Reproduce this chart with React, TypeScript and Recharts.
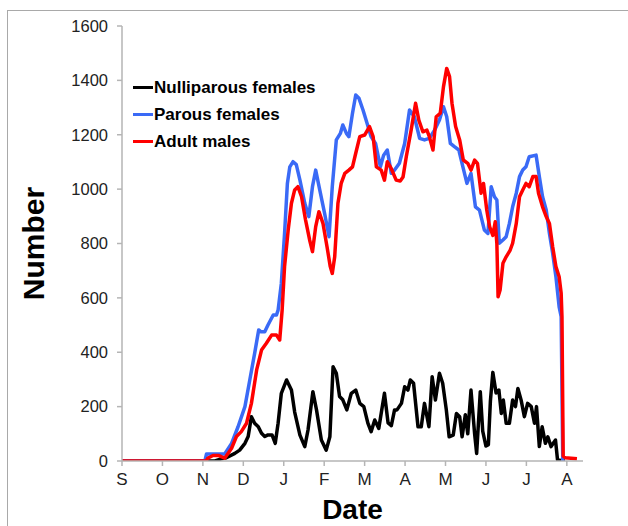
import { Legend, Line, LineChart, XAxis, YAxis } from "recharts";

// months from September (0) to August (11)
const monthLabels = ["S", "O", "N", "D", "J", "F", "M", "A", "M", "J", "J", "A"];
const monthTicks = monthLabels.map((_, i) => i);
const numberTicks = [0, 200, 400, 600, 800, 1000, 1200, 1400, 1600];

type Pt = [number, number]; // [month, number]

const nulliparous: Pt[] = [
  [0, 0], [2.3, 0], [2.45, 8], [2.58, 12], [2.79, 28], [2.91, 40], [3.04, 65], [3.12, 90],
  [3.2, 163], [3.28, 139], [3.37, 126], [3.45, 102], [3.53, 90], [3.61, 96], [3.71, 96],
  [3.79, 65], [3.86, 139], [3.94, 249], [4.07, 298], [4.19, 261], [4.27, 180], [4.4, 95],
  [4.52, 53], [4.6, 114], [4.72, 255], [4.81, 188], [4.93, 77], [5.05, 40], [5.14, 89],
  [5.22, 347], [5.3, 323], [5.38, 237], [5.46, 225], [5.56, 188], [5.67, 249], [5.78, 261],
  [5.88, 212], [5.98, 200], [6.08, 139], [6.16, 108], [6.25, 151], [6.35, 120], [6.49, 249],
  [6.58, 140], [6.66, 130], [6.74, 188], [6.8, 188], [6.91, 212], [6.99, 273], [7.07, 261],
  [7.13, 298], [7.21, 286], [7.32, 126], [7.4, 126], [7.48, 212], [7.59, 126], [7.67, 310],
  [7.75, 224], [7.85, 323], [7.93, 286], [8.02, 188], [8.09, 89], [8.19, 95], [8.27, 175],
  [8.35, 163], [8.41, 89], [8.49, 170], [8.55, 100], [8.63, 261], [8.72, 100], [8.77, 28],
  [8.86, 255], [8.92, 110], [9.0, 55], [9.06, 60], [9.11, 220], [9.17, 326], [9.25, 250],
  [9.32, 261], [9.38, 175], [9.43, 224], [9.5, 139], [9.58, 139], [9.66, 224], [9.73, 200],
  [9.79, 267], [9.87, 224], [9.95, 163], [10.03, 212], [10.12, 200], [10.2, 139], [10.25, 200],
  [10.32, 53], [10.39, 126], [10.47, 65], [10.53, 89], [10.61, 53], [10.72, 77], [10.77, 4],
  [10.95, 0],
];

const parous: Pt[] = [
  [0, 0], [2.05, 0], [2.09, 26], [2.54, 26], [2.71, 65], [2.87, 126], [3.04, 200], [3.16, 298],
  [3.28, 396], [3.38, 482], [3.44, 475], [3.53, 475], [3.61, 500], [3.74, 537], [3.82, 537],
  [3.86, 555], [3.94, 653], [4.02, 837], [4.09, 1021], [4.15, 1082], [4.23, 1101], [4.31, 1090],
  [4.4, 1033], [4.52, 948], [4.62, 899], [4.71, 1009], [4.79, 1070], [4.89, 997], [5.01, 911],
  [5.12, 825], [5.2, 1009], [5.3, 1181], [5.4, 1205], [5.46, 1236], [5.55, 1205], [5.61, 1193],
  [5.7, 1279], [5.78, 1346], [5.86, 1334], [5.96, 1291], [6.06, 1242], [6.16, 1193], [6.27, 1168],
  [6.39, 1082], [6.47, 1125], [6.56, 1144], [6.66, 1058], [6.74, 1070], [6.86, 1095], [6.99, 1168],
  [7.11, 1291], [7.23, 1266], [7.36, 1187], [7.48, 1181], [7.6, 1187], [7.73, 1217], [7.85, 1254],
  [7.95, 1303], [8.03, 1266], [8.12, 1168], [8.22, 1156], [8.33, 1144], [8.43, 1082], [8.53, 1021],
  [8.63, 1058], [8.74, 935], [8.84, 923], [8.96, 850], [9.05, 837], [9.13, 1009], [9.21, 972],
  [9.27, 960], [9.33, 801], [9.42, 813], [9.5, 825], [9.58, 874], [9.66, 935], [9.75, 985],
  [9.83, 1046], [9.91, 1070], [9.99, 1082], [10.07, 1119], [10.24, 1125], [10.32, 1046],
  [10.4, 972], [10.49, 923], [10.57, 837], [10.65, 764], [10.73, 678], [10.81, 567], [10.86, 531],
  [10.9, 0],
];

const adultMales: Pt[] = [
  [0, 0], [2.08, 0], [2.12, 10], [2.25, 20], [2.4, 20], [2.54, 10], [2.71, 47], [2.83, 90],
  [2.95, 108], [3.08, 139], [3.2, 212], [3.33, 335], [3.45, 408], [3.57, 433], [3.7, 463],
  [3.82, 463], [3.9, 445], [3.96, 555], [4.02, 715], [4.11, 850], [4.19, 948], [4.27, 997],
  [4.35, 1009], [4.44, 972], [4.54, 886], [4.64, 813], [4.71, 770], [4.79, 862], [4.87, 917],
  [4.97, 874], [5.07, 788], [5.15, 715], [5.2, 690], [5.26, 751], [5.34, 948], [5.42, 1021],
  [5.51, 1058], [5.61, 1070], [5.7, 1082], [5.78, 1132], [5.88, 1193], [6.0, 1199], [6.12, 1230],
  [6.21, 1193], [6.29, 1082], [6.41, 1070], [6.49, 1033], [6.56, 1101], [6.66, 1075], [6.78, 1033],
  [6.88, 1030], [6.95, 1045], [7.03, 1119], [7.15, 1217], [7.26, 1316], [7.34, 1254], [7.44, 1211],
  [7.54, 1217], [7.6, 1193], [7.69, 1144], [7.77, 1266], [7.87, 1279], [7.95, 1377], [8.03, 1444],
  [8.1, 1414], [8.16, 1316], [8.25, 1230], [8.35, 1181], [8.44, 1107], [8.55, 1095], [8.63, 1070],
  [8.72, 1107], [8.79, 1095], [8.88, 985], [8.94, 1021], [9.02, 923], [9.09, 862], [9.17, 830],
  [9.23, 880], [9.27, 800], [9.3, 604], [9.35, 629], [9.42, 727], [9.5, 751], [9.6, 776],
  [9.66, 801], [9.75, 874], [9.83, 972], [9.91, 997], [9.99, 1021], [10.07, 1009], [10.16, 1046],
  [10.24, 1046], [10.3, 985], [10.4, 935], [10.49, 899], [10.57, 874], [10.65, 788], [10.73, 715],
  [10.81, 678], [10.86, 617], [10.88, 531], [10.91, 18], [10.96, 12], [11.25, 8],
];

const toRows = (pts: Pt[]) => pts.map(([month, count]) => ({ month, count }));

const series = [
  { name: "Nulliparous females", color: "#000000", data: toRows(nulliparous) },
  { name: "Parous females", color: "#3a6af6", data: toRows(parous) },
  { name: "Adult males", color: "#ff0000", data: toRows(adultMales) },
];

const font = '"Liberation Sans", Arial, sans-serif';
const axisGrey = "#b5b5b5";

function LegendBox() {
  return (
    <div style={{ fontFamily: font, fontWeight: 700, fontSize: 17, color: "#000" }}>
      {series.map((s) => (
        <div key={s.name} style={{ display: "flex", alignItems: "center", height: 27 }}>
          <span style={{ display: "inline-block", width: 20, height: 3, background: s.color, marginRight: 1 }} />
          <span>{s.name}</span>
        </div>
      ))}
    </div>
  );
}

export default function App() {
  return (
    <div style={{ position: "absolute", left: 0, top: 0, width: 628, height: 526, background: "#fff" }}>
      <div
        style={{
          position: "absolute",
          left: 7,
          top: 10,
          right: 0,
          bottom: 0,
          borderTop: "1.5px solid #a9a9a9",
          borderLeft: "1.5px solid #a9a9a9",
        }}
      />
      <div style={{ position: "absolute", left: 0, top: 0 }}>
        <LineChart width={628} height={526} margin={{ top: 26, right: 45, bottom: 35, left: 62 }}>
          <XAxis
            dataKey="month"
            type="number"
            domain={[0, 11.4]}
            ticks={monthTicks}
            tickFormatter={(v) => monthLabels[v] ?? ""}
            allowDataOverflow
            height={30}
            stroke={axisGrey}
            strokeWidth={1.5}
            tickSize={5}
            tickMargin={7}
            tick={{ fill: "#222", fontSize: 17, fontFamily: font }}
            label={{
              content: (p: any) => (
                <text
                  x={p.viewBox.x + p.viewBox.width / 2}
                  y={p.viewBox.y + 58}
                  textAnchor="middle"
                  fontFamily={font}
                  fontWeight={700}
                  fontSize={28}
                  fill="#000"
                >
                  Date
                </text>
              ),
            }}
          />
          <YAxis
            type="number"
            domain={[0, 1600]}
            ticks={numberTicks}
            allowDataOverflow
            width={60}
            stroke={axisGrey}
            strokeWidth={1.5}
            tickSize={5}
            tickMargin={9}
            tick={{ fill: "#222", fontSize: 16.5, fontFamily: font }}
            label={{
              content: (p: any) => {
                const cy = p.viewBox.y + p.viewBox.height / 2;
                return (
                  <text
                    x={44}
                    y={cy}
                    transform={`rotate(-90 44 ${cy})`}
                    textAnchor="middle"
                    fontFamily={font}
                    fontWeight={700}
                    fontSize={30}
                    fill="#000"
                  >
                    Number
                  </text>
                );
              },
            }}
          />
          <Legend
            layout="vertical"
            align="center"
            verticalAlign="middle"
            wrapperStyle={{ left: 133, top: 74, width: "auto", height: "auto" }}
            content={() => <LegendBox />}
          />
          {series.map((s) => (
            <Line
              key={s.name}
              name={s.name}
              data={s.data}
              dataKey="count"
              type="linear"
              stroke={s.color}
              strokeWidth={3.5}
              strokeLinejoin="round"
              dot={false}
              activeDot={false}
              isAnimationActive={false}
            />
          ))}
        </LineChart>
      </div>
    </div>
  );
}
